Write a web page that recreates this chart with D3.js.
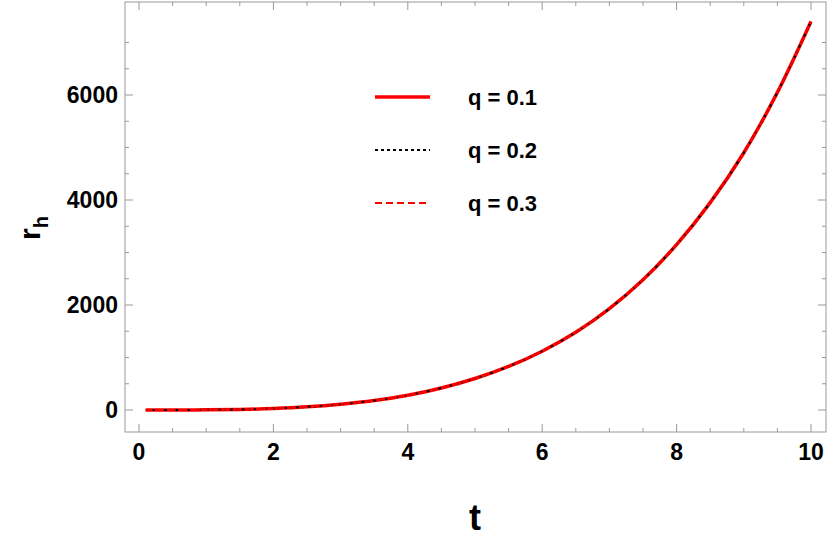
<!DOCTYPE html>
<html><head><meta charset="utf-8">
<script src="https://cdn.jsdelivr.net/npm/d3@7"></script>
<style>body{margin:0;background:#fff}text{font-family:"Liberation Sans",Arial,sans-serif;font-weight:bold}</style>
</head><body><svg id="c" width="830" height="542"></svg>
<script>
const tValues = [0.1, 0.5, 1, 1.5, 2, 2.5, 3, 3.5, 4, 4.5, 5, 5.5, 6, 6.5, 7, 7.5, 8, 8.5, 9, 9.5, 10];
const rQ1 = [0, 0.5, 3, 10, 28, 60, 110, 180, 280, 420, 600, 830, 1120, 1480, 1930, 2480, 3150, 3950, 4900, 6050, 7400];
const rQ2 = rQ1.slice();
const rQ3 = rQ1.slice();
const xTicks = [0, 2, 4, 6, 8, 10];
const yTicks = [0, 2000, 4000, 6000];
const seriesNames = ["q = 0.1", "q = 0.2", "q = 0.3"];

const svg = d3.select("#c");
const x = d3.scaleLinear().domain([0, 10]).range([139, 811]);
const y = d3.scaleLinear().domain([0, 6000]).range([410, 95]);
const L = 125, R = 826, T = 2, B = 432;

svg.append("rect").attr("x", L).attr("y", T).attr("width", R - L).attr("height", B - T)
  .attr("fill", "none").attr("stroke", "#999").attr("stroke-width", 1);

const g = svg.append("g");
xTicks.forEach(v => {
  g.append("line").attr("x1", x(v)).attr("x2", x(v)).attr("y1", B).attr("y2", B - 8).attr("stroke", "#999");
  g.append("line").attr("x1", x(v)).attr("x2", x(v)).attr("y1", T).attr("y2", T + 8).attr("stroke", "#999");
  g.append("text").attr("x", x(v)).attr("y", B + 28).attr("text-anchor", "middle").attr("font-size", 23).text(v);
});
for (let v = 0.5; v < 10; v += 0.5) if (v % 2) {
  g.append("line").attr("x1", x(v)).attr("x2", x(v)).attr("y1", B).attr("y2", B - 4).attr("stroke", "#999");
  g.append("line").attr("x1", x(v)).attr("x2", x(v)).attr("y1", T).attr("y2", T + 4).attr("stroke", "#999");
}
yTicks.forEach(v => {
  g.append("line").attr("x1", L).attr("x2", L + 8).attr("y1", y(v)).attr("y2", y(v)).attr("stroke", "#999");
  g.append("line").attr("x1", R).attr("x2", R - 8).attr("y1", y(v)).attr("y2", y(v)).attr("stroke", "#999");
  g.append("text").attr("x", L - 7).attr("y", y(v) + 8).attr("text-anchor", "end").attr("font-size", 23).text(v);
});
for (let v = 500; v < 7500; v += 500) if (v % 2000) {
  g.append("line").attr("x1", L).attr("x2", L + 4).attr("y1", y(v)).attr("y2", y(v)).attr("stroke", "#999");
  g.append("line").attr("x1", R).attr("x2", R - 4).attr("y1", y(v)).attr("y2", y(v)).attr("stroke", "#999");
}

svg.append("text").attr("x", 475).attr("y", 530).attr("text-anchor", "middle").attr("font-size", 36).text("t");
const yl = svg.append("text").attr("transform", "translate(40,228) rotate(-90)").attr("text-anchor", "middle").attr("font-size", 30);
yl.append("tspan").text("r");
yl.append("tspan").attr("font-size", 20).attr("dy", 8).text("h");

const styles = [
  {data: rQ1, color: "red", width: 3.5, dash: null},
  {data: rQ2, color: "black", width: 2, dash: "3,3"},
  {data: rQ3, color: "red", width: 2, dash: "7,4"}
];
const line = d3.line().x((d, i) => x(tValues[i])).y(d => y(d)).curve(d3.curveCatmullRom);
styles.forEach(s => {
  svg.append("path").datum(s.data).attr("d", line).attr("fill", "none")
    .attr("stroke", s.color).attr("stroke-width", s.width).attr("stroke-dasharray", s.dash);
});

styles.forEach((s, i) => {
  const ly = 97 + i * 53;
  svg.append("line").attr("x1", 375).attr("x2", 430).attr("y1", ly).attr("y2", ly)
    .attr("stroke", s.color).attr("stroke-width", s.width).attr("stroke-dasharray", s.dash);
  svg.append("text").attr("x", 468).attr("y", ly + 8).attr("font-size", 22).text(seriesNames[i]);
});
</script></body></html>
